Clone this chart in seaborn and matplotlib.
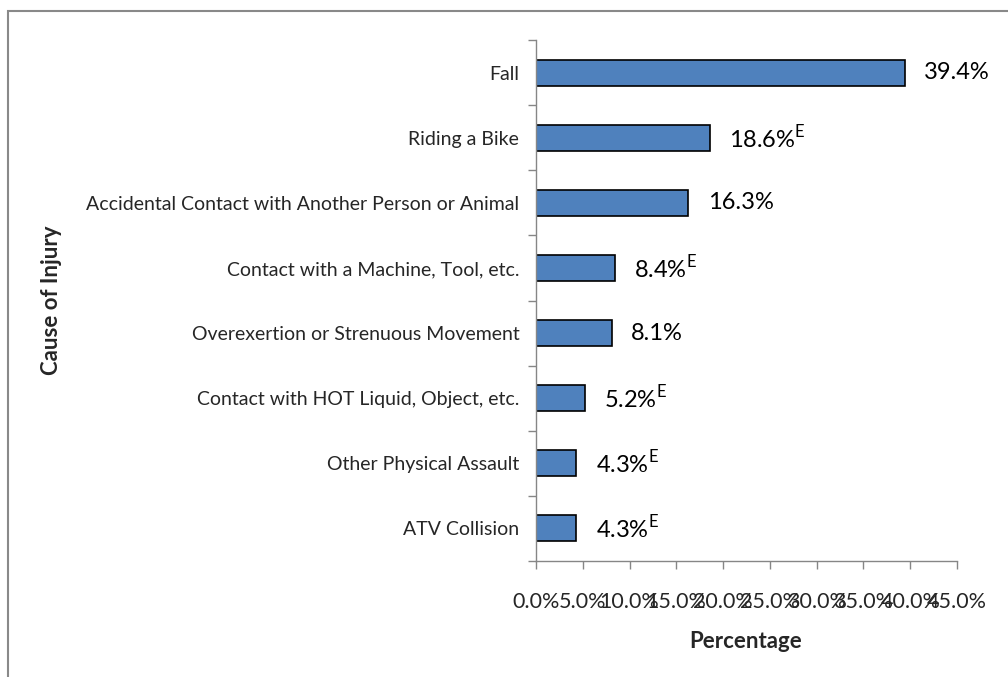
import matplotlib
matplotlib.use("Agg")
import matplotlib.pyplot as plt
import seaborn as sns
import pandas as pd
from matplotlib.patches import Rectangle
from matplotlib.ticker import MultipleLocator, FuncFormatter

causes = [
    "Fall",
    "Riding a Bike",
    "Accidental Contact with Another Person or Animal",
    "Contact with a Machine, Tool, etc.",
    "Overexertion or Strenuous Movement",
    "Contact with HOT Liquid, Object, etc.",
    "Other Physical Assault",
    "ATV Collision",
]
percent = [39.4, 18.6, 16.3, 8.4, 8.1, 5.2, 4.3, 4.3]
flag_e = [False, True, False, True, False, True, True, True]

sns.set_theme(style="white")
plt.rcParams["font.family"] = ["Lato", "DejaVu Sans"]
plt.rcParams["mathtext.fontset"] = "custom"
plt.rcParams["mathtext.rm"] = "Lato"

df = pd.DataFrame({"cause": causes, "pct": percent})

fig = plt.figure(figsize=(10.08, 6.77), dpi=100)
ax = fig.add_axes([536 / 1008, 1 - 561 / 677, (957 - 536) / 1008, (561 - 40) / 677])

sns.barplot(data=df, x="pct", y="cause", orient="h", color="#4F81BD",
            saturation=1, width=0.4, edgecolor="black", linewidth=1.2, ax=ax)

for i, (v, e) in enumerate(zip(percent, flag_e)):
    txt = f"{v:.1f}%" + (r"$^{\mathrm{E}}$" if e else "")
    ax.annotate(txt, xy=(v, i), xytext=(14, 0), textcoords="offset points",
                va="center", ha="left", fontsize=17, color="black")

ax.set_xlim(0, 45)
ax.set_ylim(len(causes) - 0.5, -0.5)
ax.xaxis.set_major_locator(MultipleLocator(5))
ax.xaxis.set_major_formatter(FuncFormatter(lambda x, p: f"{x:.1f}%"))
ax.set_yticks([i - 0.5 for i in range(len(causes) + 1)], minor=False)
ax.set_yticklabels([])
ax.set_yticks(range(len(causes)), minor=True)
ax.set_yticklabels(causes, minor=True)
ax.tick_params(axis="y", which="major", direction="out", length=6, width=1, color="#868686", left=True)
ax.tick_params(axis="y", which="minor", length=0, pad=12, labelsize=14)
ax.tick_params(axis="x", direction="out", length=6, width=1, color="#868686", bottom=True,
               labelsize=15.5, pad=16)

for side in ["top", "right"]:
    ax.spines[side].set_visible(False)
for side in ["left", "bottom"]:
    ax.spines[side].set_color("#868686")
    ax.spines[side].set_linewidth(1)

ax.set_xlabel("Percentage", fontsize=16, fontweight="bold")
ax.xaxis.set_label_coords((746 - 536) / (957 - 536), -(641 - 561) / (561 - 40))
ax.set_ylabel("Cause of Injury", fontsize=16, fontweight="bold")
ax.yaxis.set_label_coords((52 - 536) / (957 - 536), (561 - 300) / (561 - 40))
ax.xaxis.label.set_va("center")
ax.yaxis.label.set_va("center")

fig.patches.append(Rectangle((8 / 1008, -0.1), 1.2, 1.1 - 11 / 677,
                             transform=fig.transFigure, fill=False,
                             edgecolor="#898989", linewidth=1.5, zorder=0))

fig.savefig("out.png", dpi=100)
